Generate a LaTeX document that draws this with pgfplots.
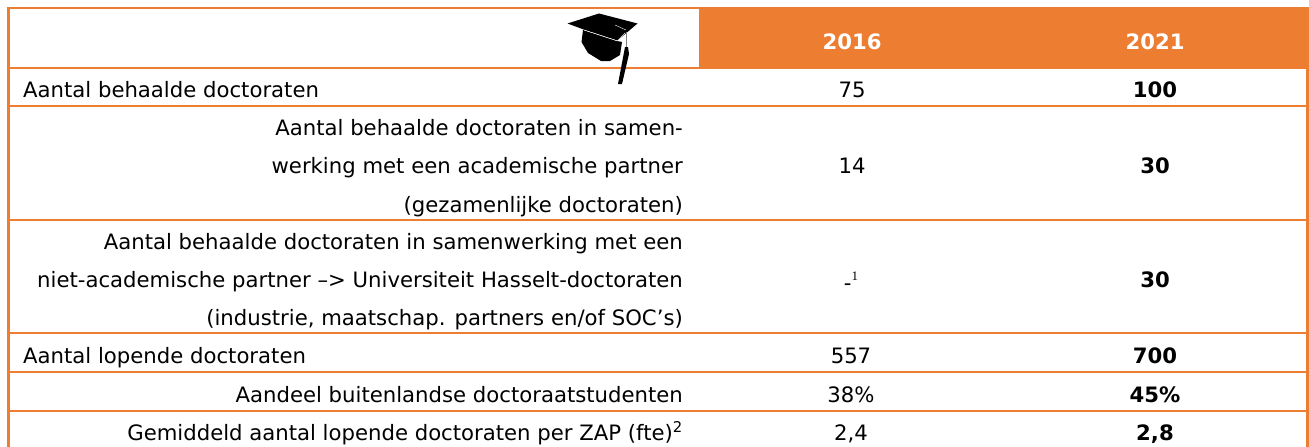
\documentclass[border=0pt]{standalone}
\usepackage{fontspec}
\setmainfont{DejaVu Sans}
\newfontfamily\noteserif{Liberation Serif}
\usepackage{pgfplots}
\usepackage{pgfplotstable}
\pgfplotsset{compat=1.18}
\definecolor{accent}{HTML}{ED7D31}
\newcommand{\fs}{\fontsize{21.2}{24}\selectfont}

% values of the two year columns, x and y in pixels of the reference
\pgfplotstableread[col sep=semicolon]{
x;y;label
852;49;{\bfseries 2016}
1155;49;{\bfseries 2021}
}\headtab
\pgfplotstableread[col sep=semicolon]{
x;y;label
852;97.5;75
852;173;14
851;287;{\raisebox{-3pt}{-}\raisebox{7pt}{\noteserif\fontsize{13}{13}\selectfont 1}}
851;363.5;557
851;402;38\%
851;440;{2,4}
}\firsttab
\pgfplotstableread[col sep=semicolon]{
x;y;label
1155;97.5;100
1155;173;30
1155;287;30
1155;363.5;700
1155;402;45\%
1155;440;{2,8}
}\secondtab

\begin{document}
\begin{tikzpicture}
\useasboundingbox (0,0) rectangle (1309pt,447pt);
\begin{axis}[
  scale only axis, width=1309pt, height=447pt,
  xmin=0, xmax=1309, ymin=0, ymax=447, y dir=reverse,
  hide axis, clip=false,
  every node near coord/.append style={anchor=base, inner sep=0pt, yshift=0pt, font=\fs},
]
% header block
\addplot[draw=none, fill=accent, forget plot] coordinates {(699,7) (1309,7) (1309,69) (699,69)} -- cycle;
% rules
\addplot[accent, line width=2.4pt, forget plot] coordinates {(8.5,447) (8.5,8) (1309,8)};
\addplot[accent, line width=2.4pt, forget plot] coordinates {(1307.5,8) (1307.5,447)};
\addplot[accent, line width=2.4pt, forget plot] coordinates {(8,68) (1309,68)};
\addplot[accent, line width=2.4pt, forget plot] coordinates {(8,106) (1309,106)};
\addplot[accent, line width=2.4pt, forget plot] coordinates {(8,220) (1309,220)};
\addplot[accent, line width=2.4pt, forget plot] coordinates {(8,333) (1309,333)};
\addplot[accent, line width=2.4pt, forget plot] coordinates {(8,372) (1309,372)};
\addplot[accent, line width=2.4pt, forget plot] coordinates {(8,411) (1309,411)};
% graduation cap
\addplot[draw=none, fill=black, forget plot] coordinates {(583,30) (581.5,42) (588,53) (601,61) (610,61) (620,55) (622,42) (617,41)} -- cycle;
\addplot[draw=none, fill=black, forget plot] coordinates {(567.5,23.5) (599,13.5) (637.5,23.5) (617.5,40.5) (585,30)} -- cycle;
\addplot[white, line width=0.4pt, forget plot] coordinates {(584,30) (617.5,41) (625,33)};
\addplot[white, line width=0.4pt, forget plot] coordinates {(615,25) (626,30)};
\addplot[draw=none, fill=black, forget plot] coordinates {(625,47) (628,47) (629,54) (622,84) (618,84)} -- cycle;
\addplot[gray, line width=1.5pt, forget plot] coordinates {(626.5,32) (626.5,47)};
% values
\addplot[white, mark=none, draw=none, nodes near coords, point meta=explicit symbolic] table[meta=label] {\headtab};
\addplot[black, mark=none, draw=none, nodes near coords, point meta=explicit symbolic] table[meta=label] {\firsttab};
\addplot[black, mark=none, draw=none, nodes near coords, point meta=explicit symbolic, every node near coord/.append style={font=\fs\bfseries}] table[meta=label] {\secondtab};
% row labels
\tikzset{lbl/.style={inner sep=0pt, font=\fs}}
\node[lbl, anchor=base west] at (axis cs:23,97.5) {Aantal behaalde doctoraten};
\node[lbl, anchor=base east] at (axis cs:683,135) {Aantal behaalde doctoraten in samen-};
\node[lbl, anchor=base east] at (axis cs:683,173) {werking met een academische partner};
\node[lbl, anchor=base east] at (axis cs:683,212) {(gezamenlijke doctoraten)};
\node[lbl, anchor=base east] at (axis cs:683,249) {Aantal behaalde doctoraten in samenwerking met een};
\node[lbl, anchor=base east] at (axis cs:683,287) {niet-academische partner –> Universiteit Hasselt-doctoraten};
\node[lbl, anchor=base east] at (axis cs:683,325) {(industrie, maatschap. partners en/of SOC’s)};
\node[lbl, anchor=base west] at (axis cs:23,363.5) {Aantal lopende doctoraten};
\node[lbl, anchor=base east] at (axis cs:683,402) {Aandeel buitenlandse doctoraatstudenten};
\node[lbl, anchor=base east] at (axis cs:683,440) {Gemiddeld aantal lopende doctoraten per ZAP (fte)\textsuperscript{2}};
\end{axis}
\end{tikzpicture}
\end{document}
